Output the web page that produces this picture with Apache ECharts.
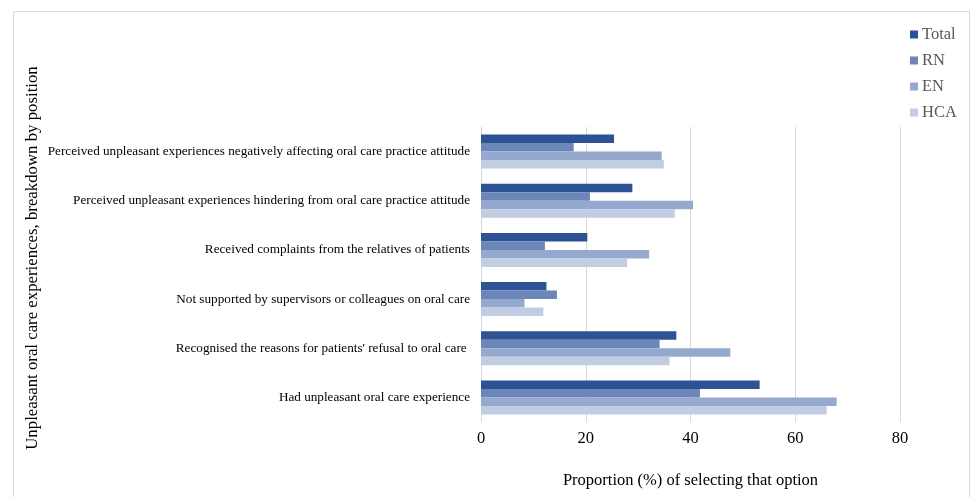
<!DOCTYPE html>
<html>
<head>
<meta charset="utf-8">
<script src="https://cdn.jsdelivr.net/npm/echarts@6/dist/echarts.min.js"></script>
<style>
html,body{margin:0;padding:0;background:#fff;}
#c{width:972px;height:497px;}
</style>
</head>
<body>
<div id="c"></div>
<script>
var categories = [
  "Perceived unpleasant experiences negatively affecting oral care practice attitude",
  "Perceived unpleasant experiences hindering from oral care practice attitude",
  "Received complaints from the relatives of patients",
  "Not supported by supervisors or colleagues on oral care",
  "Recognised the reasons for patients' refusal to oral care ",
  "Had unpleasant oral care experience"
];
var seriesNames = ["Total", "RN", "EN", "HCA"];
var totalVals = [25.4, 28.9, 20.3, 12.5, 37.3, 53.2];
var rnVals    = [17.7, 20.8, 12.2, 14.5, 34.1, 41.8];
var enVals    = [34.5, 40.5, 32.1, 8.3, 47.6, 67.9];
var hcaVals   = [34.9, 37.0, 27.9, 11.9, 36.0, 66.0];
var xTicks = [0, 20, 40, 60, 80];
var colors = ["#2E5395", "#6C86B9", "#95A8CE", "#C1CDE2"];

var allVals = [totalVals, rnVals, enVals, hcaVals];
var font = "'Liberation Serif', 'Times New Roman', serif";

var chart = echarts.init(document.getElementById('c'), null, {renderer: 'canvas'});
chart.setOption({
  backgroundColor: '#fff',
  animation: false,
  color: colors,
  grid: {left: 481, right: 72, top: 127, bottom: 75},
  legend: {
    orient: 'vertical',
    left: 905,
    top: 21,
    itemWidth: 8,
    itemHeight: 8,
    itemGap: 9,
    icon: 'rect',
    textStyle: {fontFamily: font, fontSize: 16.5, color: '#595959', padding: [0,0,0,-1]},
    data: seriesNames
  },
  xAxis: {
    type: 'value',
    min: xTicks[0],
    max: xTicks[xTicks.length - 1],
    interval: 20,
    name: 'Proportion (%) of selecting that option',
    nameLocation: 'middle',
    nameGap: 50,
    nameTextStyle: {fontFamily: font, fontSize: 16.5, color: '#000'},
    axisLine: {show: false},
    axisTick: {show: false},
    axisLabel: {fontFamily: font, fontSize: 16.5, color: '#000', margin: 8},
    splitLine: {show: true, lineStyle: {color: '#D9D9D9', width: 1}}
  },
  yAxis: {
    type: 'category',
    inverse: true,
    data: categories,
    axisLine: {show: true, lineStyle: {color: '#D9D9D9', width: 1}},
    axisTick: {show: false},
    axisLabel: {fontFamily: font, fontSize: 13.2, color: '#000', margin: 11}
  },
  graphic: [
    {
      type: 'rect',
      shape: {x: 13.5, y: 11.5, width: 956, height: 500},
      style: {fill: 'none', stroke: '#D9D9D9', lineWidth: 1}
    },
    {
      type: 'text',
      x: 33,
      y: 258,
      rotation: Math.PI / 2,
      style: {
        text: 'Unpleasant oral care experiences, breakdown by position',
        font: "16.8px " + font,
        fill: '#000',
        textAlign: 'center',
        textVerticalAlign: 'middle'
      }
    }
  ],
  series: seriesNames.map(function (n, i) {
    return {
      name: n,
      type: 'bar',
      data: allVals[i],
      barGap: '0%',
      barCategoryGap: '31%',
      itemStyle: {color: colors[i]}
    };
  })
});
</script>
</body>
</html>
